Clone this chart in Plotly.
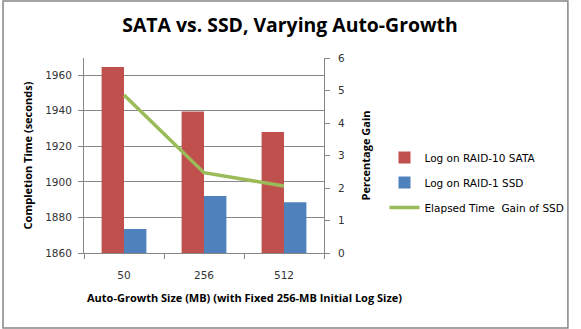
import plotly.graph_objects as go

categories = ["50", "256", "512"]
sata_times = [1964.5, 1939.5, 1928.0]
ssd_times = [1873.5, 1892.0, 1888.5]
gain_pct = [4.86, 2.47, 2.06]

W, H = 581, 329
L, R, T, B = 84, 251, 58, 76
pw, ph = W - L - R, H - T - B

fig = go.Figure()
fig.add_trace(go.Bar(x=categories, y=sata_times, name="Log on RAID-10 SATA",
                     legendgroup="a",
                     marker=dict(color="#C0504D", line=dict(width=0))))
fig.add_trace(go.Bar(x=categories, y=ssd_times, name="Log on RAID-1 SSD",
                     legendgroup="b",
                     marker=dict(color="#4F81BD", line=dict(width=0))))
fig.add_trace(go.Scatter(x=categories, y=gain_pct, name="Elapsed Time  Gain of SSD",
                         legendgroup="c",
                         mode="lines", line=dict(color="#9BBB59", width=3.5),
                         yaxis="y2"))

axis_font = dict(family="DejaVu Sans", size=10.5, color="#333")
fig.update_layout(
    width=W, height=H,
    margin=dict(l=L, r=R, t=T, b=B),
    paper_bgcolor="white", plot_bgcolor="white",
    barmode="group", bargap=0.44, bargroupgap=0,
    showlegend=True,
    title=dict(text="<b>SATA vs. SSD, Varying Auto-Growth</b>",
               x=290 / W, xref="container", xanchor="center", y=1 - 25 / H, yanchor="middle",
               font=dict(family="Open Sans", size=19.4, color="black")),
    xaxis=dict(type="category", tickson="boundaries", ticks="outside", ticklen=5,
               tickcolor="#868686", showline=True, linecolor="#868686", linewidth=1,
               tickfont=axis_font, showgrid=False, ticklabelstandoff=12),
    yaxis=dict(range=[1860, 1969.6], tickvals=[1860, 1880, 1900, 1920, 1940, 1960],
               ticks="outside", ticklen=5, tickcolor="#868686",
               showline=True, linecolor="#868686", linewidth=1,
               showgrid=True, gridcolor="#868686", gridwidth=1, zeroline=False,
               tickfont=axis_font, ticklabelstandoff=4,
               title=dict(text="<b>Completion Time (seconds)</b>",
                          font=dict(family="Open Sans", size=11, color="black"), standoff=10)),
    yaxis2=dict(range=[0, 6], tickvals=[0, 1, 2, 3, 4, 5, 6], overlaying="y", side="right",
                ticks="outside", ticklen=5, tickcolor="#868686",
                showline=True, linecolor="#868686", linewidth=1,
                showgrid=False, zeroline=False, tickfont=axis_font, ticklabelstandoff=6,
                title=dict(text="<b>Percentage Gain</b>",
                           font=dict(family="Open Sans", size=11, color="black"), standoff=18)),
    legend=dict(x=(392 - L) / pw, y=(H - B - 143) / ph, xanchor="left", yanchor="top",
                font=dict(family="DejaVu Sans", size=10.5, color="black"),
                tracegroupgap=6, bgcolor="rgba(0,0,0,0)"),
    annotations=[dict(text="<b>Auto-Growth Size (MB) (with Fixed 256-MB Initial Log Size)</b>",
                      xref="paper", yref="paper", x=(249 - L) / pw, y=(H - B - 297) / ph,
                      xanchor="center", yanchor="middle", showarrow=False,
                      font=dict(family="Open Sans", size=11, color="black"))],
    shapes=[dict(type="rect", xref="paper", yref="paper",
                 x0=(1 - L) / pw, x1=(W - 1 - L) / pw,
                 y0=(H - B - (H - 1)) / ph, y1=(H - B - 1) / ph,
                 line=dict(color="#868686", width=1.5))],
)
fig.write_html("out.html")
